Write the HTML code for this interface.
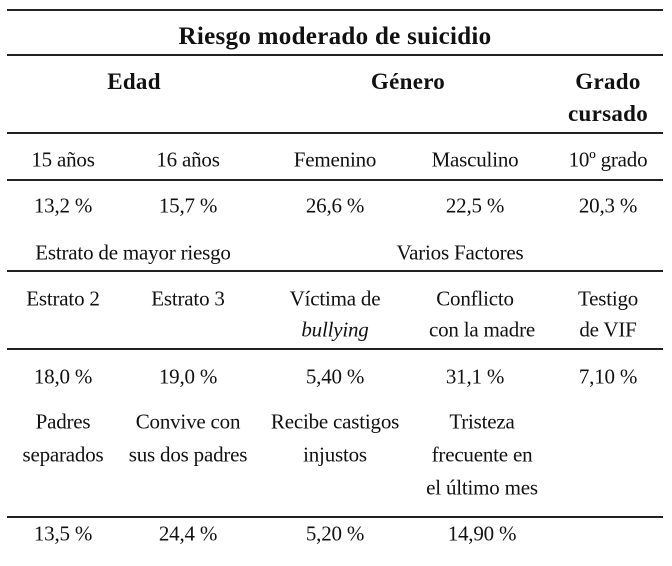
<!DOCTYPE html>
<html><head><meta charset="utf-8"><style>
body{margin:0;width:672px;height:566px;background:#fff;position:relative;overflow:hidden;font-family:"Liberation Serif",serif;color:#111}
.l{position:absolute;left:7px;width:656px;height:2px;background:#222}
.t{position:absolute;transform:translate(-50%,-50%);white-space:nowrap;font-size:21px;letter-spacing:-0.2px}
.b{font-weight:bold;font-size:23px;letter-spacing:0.3px}
</style></head><body>
<div class="l" style="top:9px"></div>
<div class="l" style="top:54px"></div>
<div class="l" style="top:132px"></div>
<div class="l" style="top:179px"></div>
<div class="l" style="top:270px"></div>
<div class="l" style="top:348px"></div>
<div class="l" style="top:516px"></div>

<div class="t b" style="left:335px;top:37px;font-size:25px">Riesgo moderado de suicidio</div>
<div class="t b" style="left:134px;top:82px">Edad</div>
<div class="t b" style="left:408px;top:82px">Género</div>
<div class="t b" style="left:608px;top:82px">Grado</div>
<div class="t b" style="left:608px;top:114px">cursado</div>

<div class="t" style="left:63px;top:160px">15 años</div>
<div class="t" style="left:188px;top:160px">16 años</div>
<div class="t" style="left:335px;top:160px">Femenino</div>
<div class="t" style="left:475px;top:160px">Masculino</div>
<div class="t" style="left:608px;top:160px">10º grado</div>

<div class="t" style="left:63px;top:206px">13,2 %</div>
<div class="t" style="left:188px;top:206px">15,7 %</div>
<div class="t" style="left:335px;top:206px">26,6 %</div>
<div class="t" style="left:475px;top:206px">22,5 %</div>
<div class="t" style="left:608px;top:206px">20,3 %</div>

<div class="t" style="left:133px;top:253px">Estrato de mayor riesgo</div>
<div class="t" style="left:460px;top:253px">Varios Factores</div>

<div class="t" style="left:63px;top:299px">Estrato 2</div>
<div class="t" style="left:188px;top:299px">Estrato 3</div>
<div class="t" style="left:335px;top:299px">Víctima de</div>
<div class="t" style="left:335px;top:330px;font-style:italic">bullying</div>
<div class="t" style="left:475px;top:299px">Conflicto</div>
<div class="t" style="left:482px;top:330px">con la madre</div>
<div class="t" style="left:608px;top:299px">Testigo</div>
<div class="t" style="left:608px;top:330px">de VIF</div>

<div class="t" style="left:63px;top:377px">18,0 %</div>
<div class="t" style="left:188px;top:377px">19,0 %</div>
<div class="t" style="left:335px;top:377px">5,40 %</div>
<div class="t" style="left:475px;top:377px">31,1 %</div>
<div class="t" style="left:608px;top:377px">7,10 %</div>

<div class="t" style="left:63px;top:422px">Padres</div>
<div class="t" style="left:63px;top:455px">separados</div>
<div class="t" style="left:188px;top:422px">Convive con</div>
<div class="t" style="left:188px;top:455px">sus dos padres</div>
<div class="t" style="left:335px;top:422px">Recibe castigos</div>
<div class="t" style="left:335px;top:455px">injustos</div>
<div class="t" style="left:482px;top:422px">Tristeza</div>
<div class="t" style="left:482px;top:455px">frecuente en</div>
<div class="t" style="left:482px;top:488px">el último mes</div>

<div class="t" style="left:63px;top:534px">13,5 %</div>
<div class="t" style="left:188px;top:534px">24,4 %</div>
<div class="t" style="left:335px;top:534px">5,20 %</div>
<div class="t" style="left:482px;top:534px">14,90 %</div>
</body></html>
